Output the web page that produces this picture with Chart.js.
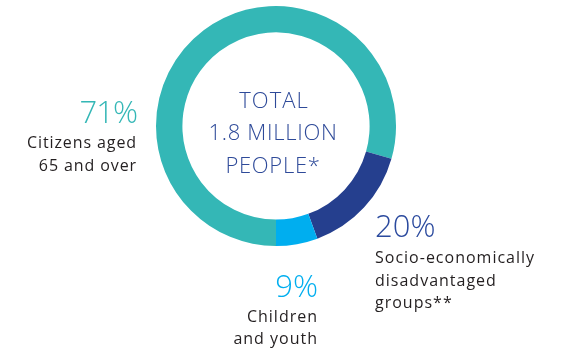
<!DOCTYPE html>
<html>
<head>
<meta charset="utf-8">
<script src="https://cdn.jsdelivr.net/npm/chart.js@4.4.0/dist/chart.umd.min.js"></script>
<style>
  html, body { margin: 0; padding: 0; background: #fff; }
  #wrap { position: relative; width: 562px; height: 350px; }
</style>
</head>
<body>
<div id="wrap"><canvas id="donut" width="562" height="350"></canvas></div>
<script>
// groups, arc shares as read from the ring, and the printed percent labels
const groups = ['Citizens aged 65 and over', 'Socio-economically disadvantaged groups**', 'Children and youth'];
const shares = [79.4, 15.0, 5.6];
const pctLabels = ['71%', '20%', '9%'];
const colors = ['#34B7B6', '#253F8E', '#00AEEF'];
const centerLines = ['TOTAL', '1.8 MILLION', 'PEOPLE*'];

const FONT = '"Open Sans", "Noto Sans", sans-serif';

// text around the ring
const labelsPlugin = {
  id: 'labels',
  afterDraw(chart) {
    const ctx = chart.ctx;
    ctx.save();
    ctx.textBaseline = 'alphabetic';

    // center
    ctx.fillStyle = '#2E4A99';
    ctx.textAlign = 'center';
    ctx.font = '300 22px ' + FONT;
    ctx.letterSpacing = '1px';
    ctx.fillText(centerLines[0], 274, 108);
    ctx.letterSpacing = '0.7px';
    ctx.fillText(centerLines[1], 273, 140);
    ctx.fillText(centerLines[2], 273, 173);

    // left: 71%
    ctx.textAlign = 'right';
    ctx.fillStyle = colors[0];
    ctx.font = '300 31px ' + FONT;
    ctx.letterSpacing = '-1px';
    ctx.fillText(pctLabels[0], 137, 123);
    ctx.fillStyle = '#231F20';
    ctx.font = '400 16px ' + FONT;
    ctx.letterSpacing = '0.9px';
    ctx.fillText('Citizens aged', 137, 148);
    ctx.fillText('65 and over', 137, 171);

    // right: 20%
    ctx.textAlign = 'left';
    ctx.fillStyle = '#2B4A9E';
    ctx.font = '300 31px ' + FONT;
    ctx.letterSpacing = '0px';
    ctx.fillText(pctLabels[1], 375, 237);
    ctx.fillStyle = '#231F20';
    ctx.font = '400 16px ' + FONT;
    ctx.letterSpacing = '1px';
    ctx.fillText('Socio-economically', 375, 263);
    ctx.fillText('disadvantaged', 375, 286);
    ctx.fillText('groups**', 375, 308);

    // bottom: 9%
    ctx.textAlign = 'right';
    ctx.fillStyle = colors[2];
    ctx.font = '300 31px ' + FONT;
    ctx.letterSpacing = '0px';
    ctx.fillText(pctLabels[2], 318, 297);
    ctx.fillStyle = '#231F20';
    ctx.font = '400 16px ' + FONT;
    ctx.letterSpacing = '1px';
    ctx.fillText('Children', 318, 322);
    ctx.fillText('and youth', 318, 344);

    ctx.restore();
  }
};

new Chart(document.getElementById('donut'), {
  type: 'doughnut',
  data: {
    labels: groups,
    datasets: [{
      data: shares,
      backgroundColor: colors,
      borderWidth: 0,
      hoverOffset: 0
    }]
  },
  options: {
    responsive: false,
    animation: false,
    rotation: 180,
    cutout: '78%',
    layout: { padding: { left: 156, right: 166, top: 6, bottom: 104 } },
    plugins: {
      legend: { display: false },
      tooltip: { enabled: false }
    }
  },
  plugins: [labelsPlugin]
});
</script>
</body>
</html>
